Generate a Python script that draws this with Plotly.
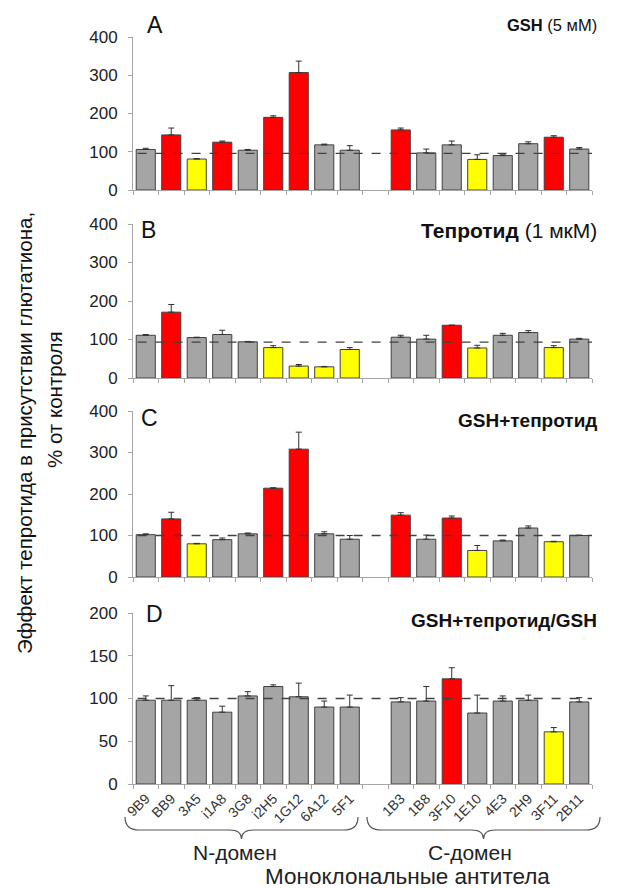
import plotly.graph_objects as go

# ---------------- data ----------------
n_domain = ["9B9", "BB9", "3A5", "i1A8", "3G8", "i2H5", "1G12", "6A12", "5F1"]
c_domain = ["1B3", "1B8", "3F10", "1E10", "4E3", "2H9", "3F11", "2B11"]
gap_label = " "
categories = n_domain + [gap_label] + c_domain

A_vals = [106, 144, 81, 125, 104, 190, 307, 118, 104, 157, 97, 118, 80, 90, 121, 138, 107]
A_err = [3, 18, 1, 3, 2, 4, 30, 2, 12, 5, 10, 10, 12, 2, 5, 4, 4]
A_col = ["g", "r", "y", "r", "g", "r", "r", "g", "g", "r", "g", "g", "y", "g", "g", "r", "g"]

B_vals = [111, 171, 105, 113, 94, 79, 31, 29, 74, 106, 101, 137, 78, 111, 118, 79, 101]
B_err = [2, 20, 1, 11, 1, 5, 4, 1, 5, 5, 10, 0, 7, 5, 5, 5, 2]
B_col = ["g", "r", "g", "g", "g", "y", "y", "y", "y", "g", "g", "r", "y", "g", "g", "y", "g"]

C_vals = [102, 140, 80, 90, 104, 214, 308, 104, 91, 149, 91, 142, 64, 87, 118, 85, 100]
C_err = [2, 16, 1, 4, 2, 1, 41, 5, 9, 6, 10, 5, 12, 2, 5, 1, 1]
C_col = ["g", "r", "y", "g", "g", "r", "r", "g", "g", "r", "g", "r", "y", "g", "g", "y", "g"]

D_vals = [98, 98, 98, 84, 103, 114, 102, 90, 90, 96, 97, 123, 83, 97, 98, 61, 96]
D_err = [5, 17, 3, 7, 5, 2, 16, 7, 14, 5, 17, 13, 21, 6, 6, 5, 5]
D_col = ["g", "g", "g", "g", "g", "g", "g", "g", "g", "g", "g", "r", "g", "g", "g", "y", "g"]

ref_lines = [96, 93, 100, 100]
y_max = [400, 400, 400, 200]
y_step = [100, 100, 100, 50]
panel_letters = ["A", "B", "C", "D"]
panel_titles = ["<b>GSH</b> (5 мМ)", "<b>Тепротид</b> (1 мкМ)", "<b>GSH+тепротид</b>",
                "<b>GSH+тепротид/GSH</b>"]
group_labels = ["N-домен", "С-домен"]
x_title = "Моноклональные антитела"
y_title_1 = "Эффект тепротида в присутствии глютатиона,"
y_title_2 = "% от контроля"

# ---------------- style / layout ----------------
W, H = 630, 888
palette = {"g": "#A5A5A5", "r": "#FF0000", "y": "#FFFF00"}
FONT = "Liberation Sans, Arial, sans-serif"
AXIS_COL = "#A6A6A6"
x_px = (133, 592)
panels_px = [(37, 190), (224, 378), (411, 577), (613, 784)]  # top, bottom
letter_pos = [(155, 25), (148, 230), (149, 418), (154, 614)]
title_y = [25, 230, 420, 620]
title_size = [16.5, 21, 19, 19]


def fx(px):
    return px / W


def fy(py):
    return 1 - py / H


def with_gap(vals):
    return vals[:len(n_domain)] + [None] + vals[len(n_domain):]


fig = go.Figure()
all_vals = [A_vals, B_vals, C_vals, D_vals]
all_err = [A_err, B_err, C_err, D_err]
all_col = [A_col, B_col, C_col, D_col]

for k in range(4):
    sfx = "" if k == 0 else str(k + 1)
    cols = with_gap([palette[c] for c in all_col[k]])
    cols = [c if c is not None else "#FFFFFF" for c in cols]
    fig.add_trace(go.Bar(
        x=categories, y=with_gap(all_vals[k]),
        marker=dict(color=cols, line=dict(color="#404040", width=1)),
        error_y=dict(type="data", symmetric=False, array=with_gap(all_err[k]),
                     arrayminus=[0] * len(categories), color="#303030",
                     thickness=1, width=3),
        xaxis="x" + sfx, yaxis="y" + sfx, showlegend=False,
    ))
    top, bot = panels_px[k]
    fig.update_layout(**{
        "xaxis" + sfx: dict(
            domain=[fx(x_px[0]), fx(x_px[1])], anchor="y" + sfx,
            type="category", categoryorder="array", categoryarray=categories,
            range=[-0.5, len(categories) - 0.5],
            tickson="boundaries", ticks="outside", ticklen=4, tickcolor=AXIS_COL,
            showline=True, linecolor=AXIS_COL, linewidth=1, showgrid=False,
            showticklabels=(k == 3), tickangle=-45,
            tickfont=dict(family=FONT, size=14, color="#333333"),
            automargin=False, fixedrange=True,
        ),
        "yaxis" + sfx: dict(
            domain=[fy(bot), fy(top)], anchor="x" + sfx,
            range=[0, y_max[k]], dtick=y_step[k], tick0=0,
            ticks="outside", ticklen=4, tickcolor=AXIS_COL,
            showline=True, linecolor=AXIS_COL, linewidth=1,
            showgrid=False, zeroline=False, ticklabelstandoff=7,
            tickfont=dict(family=FONT, size=17, color="#222222"),
            automargin=False, fixedrange=True,
        ),
    })
    fig.add_shape(type="line", xref="x" + sfx + " domain", yref="y" + sfx,
                  x0=0.01, x1=1.0, y0=ref_lines[k], y1=ref_lines[k],
                  line=dict(color="#404040", width=1.3, dash="dash"))
    lx, ly = letter_pos[k]
    fig.add_annotation(x=fx(lx), y=fy(ly), xref="paper", yref="paper",
                       text=panel_letters[k], showarrow=False,
                       font=dict(family=FONT, size=23, color="#111111"),
                       xanchor="center", yanchor="middle")
    fig.add_annotation(x=fx(599), y=fy(title_y[k]), xref="paper", yref="paper",
                       text=panel_titles[k], showarrow=False,
                       font=dict(family=FONT, size=title_size[k], color="#111111"),
                       xanchor="right", yanchor="middle")

# braces under x labels
braces = [(125, 358), (367, 600)]
label_x = [235, 470]
y_end, y_mid, y_tip = 817, 830, 839
for (x0, x1), lab, lxp in zip(braces, group_labels, label_x):
    xm = (x0 + x1) / 2
    pts = (f"M {fx(x0)},{fy(y_end)} Q {fx(x0)},{fy(y_mid)} {fx(x0 + 14)},{fy(y_mid)} "
           f"L {fx(xm - 12)},{fy(y_mid)} Q {fx(xm)},{fy(y_mid)} {fx(xm)},{fy(y_tip)} "
           f"Q {fx(xm)},{fy(y_mid)} {fx(xm + 12)},{fy(y_mid)} "
           f"L {fx(x1 - 14)},{fy(y_mid)} Q {fx(x1)},{fy(y_mid)} {fx(x1)},{fy(y_end)}")
    fig.add_shape(type="path", xref="paper", yref="paper", path=pts,
                  line=dict(color="#555555", width=1.2))
    fig.add_annotation(x=fx(lxp), y=fy(852), xref="paper", yref="paper", text=lab,
                       showarrow=False, font=dict(family=FONT, size=21, color="#222222"),
                       xanchor="center", yanchor="middle")

fig.add_annotation(x=fx(407), y=fy(876), xref="paper", yref="paper", text=x_title,
                   showarrow=False, font=dict(family=FONT, size=22.5, color="#222222"),
                   xanchor="center", yanchor="middle")
fig.add_annotation(x=fx(25), y=fy(433), xref="paper", yref="paper", text=y_title_1,
                   textangle=-90, showarrow=False,
                   font=dict(family=FONT, size=20.5, color="#111111"),
                   xanchor="center", yanchor="middle")
fig.add_annotation(x=fx(54), y=fy(400), xref="paper", yref="paper", text=y_title_2,
                   textangle=-90, showarrow=False,
                   font=dict(family=FONT, size=20.5, color="#111111"),
                   xanchor="center", yanchor="middle")

fig.update_layout(width=W, height=H, margin=dict(l=0, r=0, t=0, b=0),
                  paper_bgcolor="white", plot_bgcolor="white",
                  bargap=0.25, showlegend=False)

fig.write_html("out.html", config={"displayModeBar": False})
